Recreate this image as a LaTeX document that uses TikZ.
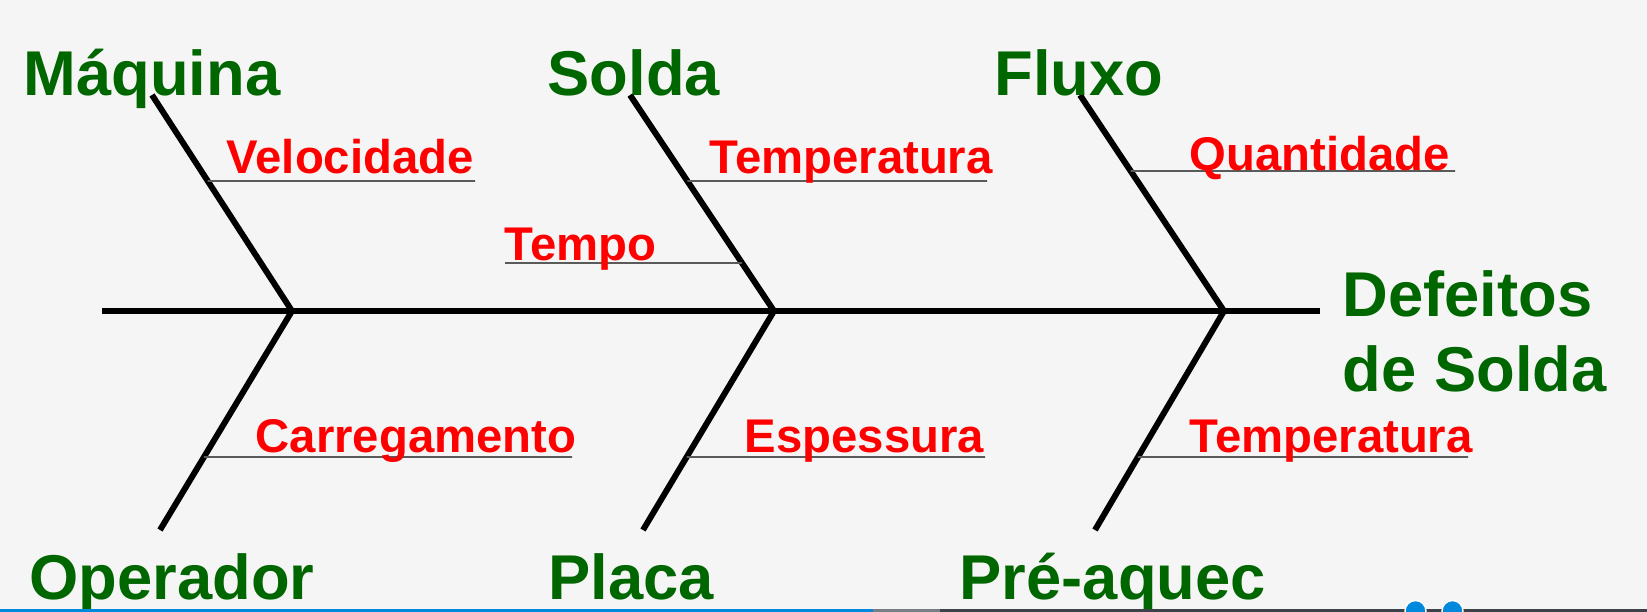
\documentclass[tikz,border=0pt]{standalone}
\usepackage{fontspec}
\setmainfont{Liberation Sans}
\usetikzlibrary{calc}
\definecolor{bgc}{RGB}{245,245,245}
\definecolor{catgreen}{RGB}{0,102,0}
\definecolor{subred}{RGB}{255,0,0}
\definecolor{subgray}{RGB}{90,90,90}
\definecolor{barblue}{RGB}{0,136,221}
\definecolor{bargray}{RGB}{60,66,72}
\definecolor{barlight}{RGB}{120,126,132}
\tikzset{
  cat/.style={anchor=base west, inner sep=0pt, text=catgreen, font=\fontsize{18.0pt}{21pt}\selectfont\bfseries},
  sub/.style={anchor=base west, inner sep=0pt, text=subred, font=\fontsize{13.45pt}{16pt}\selectfont\bfseries},
  spine/.style={line width=1.8pt, black},
  bone/.style={line width=1.7pt, black},
  subline/.style={line width=0.5pt, subgray},
}
\begin{document}
\begin{tikzpicture}[x=0.01cm,y=-0.01cm]
\useasboundingbox (0,0) rectangle (1647,612);
\fill[bgc] (0,0) rectangle (1647,612);

% key points
\coordinate (s0) at (102,311);
\coordinate (s1) at (1320,311);
\coordinate (j1) at (292,311);
\coordinate (j2) at (774,311);
\coordinate (j3) at (1224,311);
\coordinate (t1) at (152,95);
\coordinate (t2) at (630,95);
\coordinate (t3) at (1080,95);
\coordinate (b1) at (160,530);
\coordinate (b2) at (643,530);
\coordinate (b3) at (1095,530);

% spine and bones
\draw[spine] (s0) -- (s1);
\draw[bone] (t1) -- (j1);
\draw[bone] (t2) -- (j2);
\draw[bone] (t3) -- (j3);
\draw[bone] (j1) -- (b1);
\draw[bone] (j2) -- (b2);
\draw[bone] (j3) -- (b3);

% sub-cause lines
\coordinate (e1) at (475,181);
\coordinate (e2) at (987,181);
\coordinate (e3) at (505,263);
\coordinate (e4) at (1455,171);
\coordinate (e5) at (572,457);
\coordinate (e6) at (985,457);
\coordinate (e7) at (1468,457);
\draw[subline] ($(t1)!0.398!(j1)$) -- (e1);
\draw[subline] ($(t2)!0.398!(j2)$) -- (e2);
\draw[subline] (e3) -- ($(t2)!0.778!(j2)$);
\draw[subline] ($(t3)!0.352!(j3)$) -- (e4);
\draw[subline] ($(j1)!0.667!(b1)$) -- (e5);
\draw[subline] ($(j2)!0.667!(b2)$) -- (e6);
\draw[subline] ($(j3)!0.667!(b3)$) -- (e7);

% category labels
\node[cat] (maq) at (23,95) {Máquina};
\node[cat] (sol) at (547,95) {Solda};
\node[cat] (flu) at (994,95) {Fluxo};
\node[cat] (ope) at (29,599) {Operador};
\node[cat] (pla) at (548,599) {Placa};
\node[cat] (pre) at (959,599) {Pré-aquec};
\node[cat] (ef1) at (1342,317) {Defeitos};
\node[cat] (ef2) at (1342,391) {de Solda};

% sub-cause labels
\node[sub] (vel) at (226,173) {Velocidade};
\node[sub] (tem1) at (709,173) {Temperatura};
\node[sub] (tpo) at (504,260) {Tempo};
\node[sub] (qua) at (1189,170) {Quantidade};
\node[sub] (car) at (255,452) {Carregamento};
\node[sub] (esp) at (744,452) {Espessura};
\node[sub] (tem2) at (1189,452) {Temperatura};

% bottom bar
\fill[barblue] (0,609) rectangle (873,612);
\fill[barlight] (873,609) rectangle (940,612);
\fill[bargray] (940,609) rectangle (1647,612);
\fill[barblue, draw=white, line width=0.4pt] (1415.5,611) circle (10.5);
\fill[barblue, draw=white, line width=0.4pt] (1452.5,611) circle (10.5);
\end{tikzpicture}
\end{document}
